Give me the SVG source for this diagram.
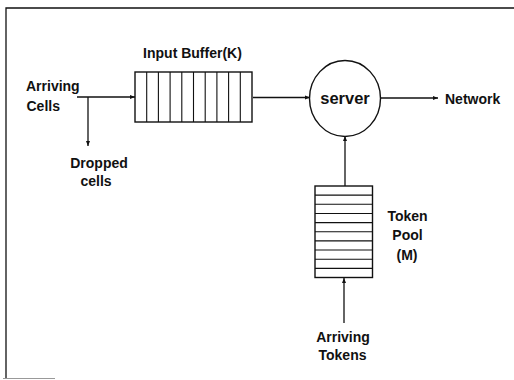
<svg xmlns="http://www.w3.org/2000/svg" width="514" height="380" viewBox="0 0 514 380">
<style>
text{font-family:"Liberation Sans",Arial,sans-serif;font-weight:bold;font-size:14px;fill:#111}
.ln{stroke:#111;stroke-width:1.3;fill:none}
.box{stroke:#111;stroke-width:1.4;fill:#fff}
.cell{stroke:#111;stroke-width:1.1}
</style>
<defs>
<marker id="ah" viewBox="0 0 10 10" refX="10" refY="5" markerWidth="5" markerHeight="5" orient="auto" markerUnits="userSpaceOnUse">
<path d="M0,1 L10,5 L0,9 Z" fill="#111"/>
</marker>
</defs>
<rect width="514" height="380" fill="#fff"/>
<g id="frame">
<path d="M6,379 L6,8 L514,8" class="ln" stroke-width="1.6"/>
<line x1="3" y1="378.5" x2="55" y2="378.5" stroke="#999" stroke-width="1"/>
</g>
<g id="connectors">
<line x1="77" y1="97" x2="135" y2="97" class="ln" marker-end="url(#ah)"/>
<line x1="88" y1="97" x2="88" y2="146" class="ln" marker-end="url(#ah)"/>
<line x1="253" y1="97.5" x2="310" y2="97.5" class="ln" marker-end="url(#ah)"/>
<line x1="381" y1="98" x2="438" y2="98" class="ln" marker-end="url(#ah)"/>
<line x1="345" y1="186" x2="345" y2="136" class="ln" marker-end="url(#ah)"/>
<line x1="344" y1="323" x2="344" y2="278" class="ln" marker-end="url(#ah)"/>
</g>
<g id="arriving-cells">
<text x="26" y="91">Arriving</text>
<text x="26.5" y="110.5">Cells</text>
</g>
<g id="dropped-cells">
<text x="99" y="168" text-anchor="middle">Dropped</text>
<text x="96" y="185.5" text-anchor="middle">cells</text>
</g>
<g id="input-buffer">
<text x="192.5" y="58" text-anchor="middle">Input Buffer(K)</text>
<rect x="135" y="72" width="117" height="50" class="box"/>
<path class="cell" d="M146.7,72V122M158.4,72V122M170.1,72V122M181.8,72V122M193.5,72V122M205.2,72V122M216.9,72V122M228.6,72V122M240.3,72V122"/>
</g>
<g id="server">
<ellipse cx="345" cy="98.5" rx="35.5" ry="38" class="box"/>
<text x="345" y="104" text-anchor="middle" font-size="16.5px" style="font-size:16.5px">server</text>
</g>
<g id="network">
<text x="445" y="104">Network</text>
</g>
<g id="token-pool">
<rect x="315" y="186" width="57.5" height="91.5" class="box"/>
<path class="cell" d="M315,195.15H372.5M315,204.3H372.5M315,213.45H372.5M315,222.6H372.5M315,231.75H372.5M315,240.9H372.5M315,250.05H372.5M315,259.2H372.5M315,268.35H372.5"/>
<text x="407.5" y="221" text-anchor="middle">Token</text>
<text x="407.5" y="240" text-anchor="middle">Pool</text>
<text x="407" y="260" text-anchor="middle">(M)</text>
</g>
<g id="arriving-tokens">
<text x="343" y="341.5" text-anchor="middle">Arriving</text>
<text x="342.5" y="360" text-anchor="middle">Tokens</text>
</g>
</svg>
